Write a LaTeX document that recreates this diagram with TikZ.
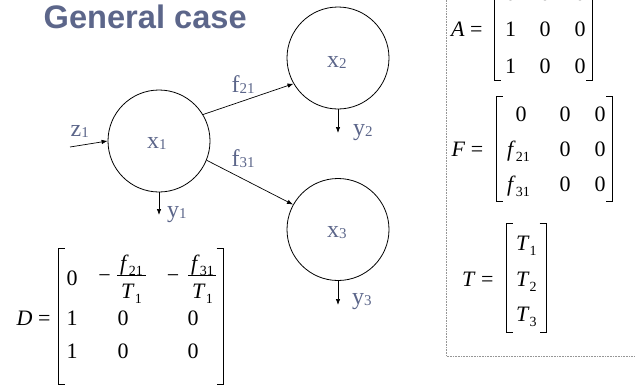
\documentclass[tikz,border=0pt]{standalone}
\usepackage{fontspec}
\setmainfont{Liberation Serif}
\newfontfamily\titlefont{Liberation Sans}
\usetikzlibrary{arrows.meta}
\definecolor{slate}{RGB}{92,102,138}
\definecolor{boxgray}{RGB}{150,150,150}
\newcommand\lsub[1]{\raisebox{-1pt}{\fontsize{15}{15}\selectfont #1}}
\newcommand\msub[1]{\raisebox{-5pt}{\fontsize{14}{14}\selectfont #1}}
\newcommand\mbrackets[4]{%
  \draw[brk] (#1+6.5,#3) -- (#1,#3) -- (#1,#4) -- (#1+6.5,#4);
  \draw[brk] (#2-6.5,#3) -- (#2,#3) -- (#2,#4) -- (#2-6.5,#4);}
\begin{document}
\begin{tikzpicture}[x=1pt,y=-1pt,
  state/.style={circle, draw, line width=0.8pt, minimum size=102pt, inner sep=0pt},
  lbl/.style={anchor=base west, inner sep=0pt, text=slate, font=\fontsize{24}{24}\selectfont},
  ent/.style={anchor=base, inner sep=0pt, font=\fontsize{22}{22}\selectfont},
  entw/.style={ent, anchor=base west},
  arr/.style={-{Latex[length=6pt,width=4.5pt]}, line width=0.7pt},
  brk/.style={line width=0.7pt},
]
\useasboundingbox (0,0) rectangle (635,386);
\clip (0,0) rectangle (635,386);

% title
\node[anchor=base west, inner sep=0pt, text=slate,
      font=\titlefont\bfseries\fontsize{32.6}{36}\selectfont] (title) at (43.5,28.3) {General case};

% states
\node[state] (x1) at (159,141) {};
\node[state] (x2) at (338,58) {};
\node[state] (x3) at (338,229.5) {};
\node[lbl] (x1t) at (147,148) {x\lsub{1}};
\node[lbl] (x2t) at (327,67) {x\lsub{2}};
\node[lbl] (x3t) at (327,237) {x\lsub{3}};

% free ends
\coordinate (zin) at (70,147);
\coordinate (y1e) at (159,215);
\coordinate (y2e) at (338,133);
\coordinate (y3e) at (338,305);

% connectors
\draw[arr] (zin) -- (x1.180);
\draw[arr] (x1.31.5) -- (x2.210.8);
\draw[arr] (x1.338.3) -- (x3.151.1);
\draw[arr] (x1.south) -- (y1e);
\draw[arr] (x2.south) -- (y2e);
\draw[arr] (x3.south) -- (y3e);

% labels
\node[lbl] (z1) at (70.5,136.7) {z\lsub{1}};
\node[lbl] (f21) at (231.5,92) {f\lsub{21}};
\node[lbl] (f31) at (231.5,166.7) {f\lsub{31}};
\node[lbl] (y1) at (167,217) {y\lsub{1}};
\node[lbl] (y2) at (353,135) {y\lsub{2}};
\node[lbl] (y3) at (352,304) {y\lsub{3}};

% dotted box
\draw[boxgray, line width=0.8pt, dash pattern=on 0.8pt off 0.8pt] (446,-5) -- (446,356) -- (640,356);

% ---- D matrix ----
\node[entw] (Dl) at (16.5,325) {\textit{D} =};
\mbrackets{58.3}{223}{248}{384}
\node[entw] (d11) at (66.5,285) {0};
\node[ent] (dm1) at (104.5,282) {−};
\node[ent] (dn1) at (131.5,270) {\textit{f}\msub{21}};
\draw[line width=0.7pt] (117,275) -- (146,275);
\node[ent] (dd1) at (131.5,298.3) {\textit{T}\msub{1}};
\node[ent] (dm2) at (173,282) {−};
\node[ent] (dn2) at (202.5,270) {\textit{f}\msub{31}};
\draw[line width=0.7pt] (188,275) -- (216,275);
\node[ent] (dd2) at (202.5,298.3) {\textit{T}\msub{1}};
\node[entw] (d21) at (66.5,325) {1};
\node[ent] (d22) at (123,325) {0};
\node[ent] (d23) at (193,325) {0};
\node[entw] (d31) at (66.5,358.3) {1};
\node[ent] (d32) at (123,358.3) {0};
\node[ent] (d33) at (193,358.3) {0};

% ---- A matrix ----
\node[entw] (Al) at (451,36.7) {\textit{A} =};
\mbrackets{494}{592}{-22}{80.7}
\node[ent] (a11) at (510.5,0) {0};
\node[ent] (a12) at (545,0) {0};
\node[ent] (a13) at (580,0) {0};
\node[ent] (a21) at (510.5,36.7) {1};
\node[ent] (a22) at (545,36.7) {0};
\node[ent] (a23) at (580,36.7) {0};
\node[ent] (a31) at (510.5,73.3) {1};
\node[ent] (a32) at (545,73.3) {0};
\node[ent] (a33) at (580,73.3) {0};

% ---- F matrix ----
\node[entw] (Fl) at (451.5,156.7) {\textit{F} =};
\mbrackets{496}{612.7}{96}{201}
\node[ent] (f11) at (521,121.7) {0};
\node[ent] (f12) at (565,121.7) {0};
\node[ent] (f13) at (600,121.7) {0};
\node[entw] (f21m) at (507,156.7) {\textit{f}\msub{21}};
\node[ent] (f22) at (565,156.7) {0};
\node[ent] (f23) at (600,156.7) {0};
\node[entw] (f31m) at (507,191.7) {\textit{f}\msub{31}};
\node[ent] (f32) at (565,191.7) {0};
\node[ent] (f33) at (600,191.7) {0};

% ---- T matrix ----
\node[entw] (Tl) at (462,286.7) {\textit{T} =};
\mbrackets{506}{546}{223}{332}
\node[entw] (t1) at (516,250) {\textit{T}\msub{1}};
\node[entw] (t2) at (516,286.5) {\textit{T}\msub{2}};
\node[entw] (t3) at (516,321.7) {\textit{T}\msub{3}};
\end{tikzpicture}
\end{document}
